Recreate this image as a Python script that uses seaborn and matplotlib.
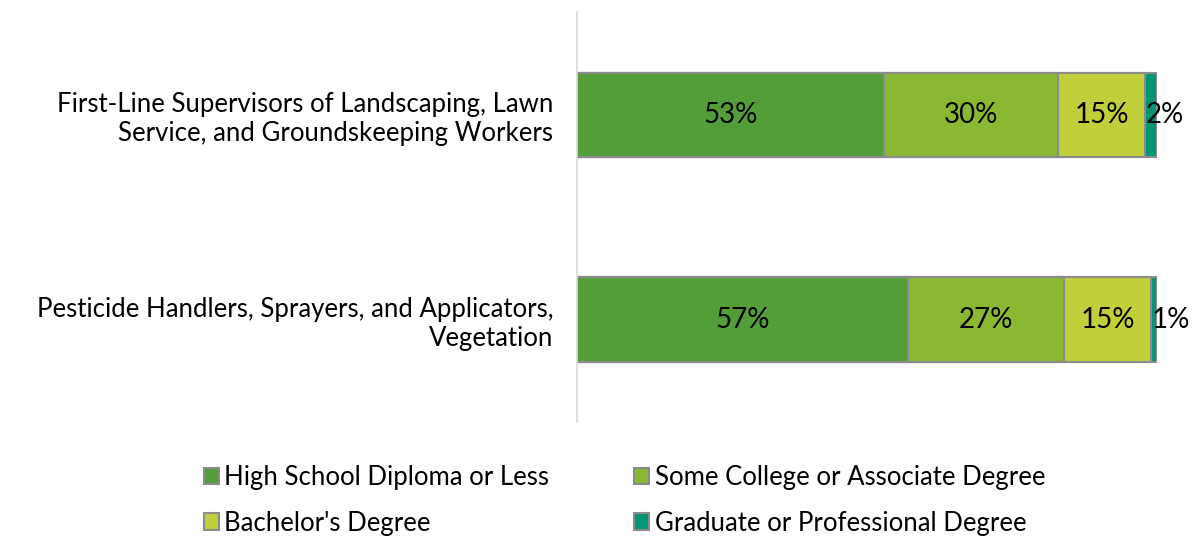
import seaborn as sns
import pandas as pd
import numpy as np
import matplotlib.pyplot as plt
from matplotlib.patches import Patch

occupations = [
    'First-Line Supervisors of Landscaping, Lawn\nService, and Groundskeeping Workers',
    'Pesticide Handlers, Sprayers, and Applicators,\nVegetation',
]
levels = ['High School Diploma or Less', 'Some College or Associate Degree',
          "Bachelor's Degree", 'Graduate or Professional Degree']
high_school = [0.53, 0.57]
some_college = [0.30, 0.27]
bachelors = [0.15, 0.15]
graduate = [0.02, 0.01]
colors = ['#549E39', '#8AB833', '#C0CF3A', '#029676']

sns.set_theme(style='white')
plt.rcParams['font.family'] = ['Lato', 'DejaVu Sans']
plt.rcParams['text.color'] = 'black'

df = pd.DataFrame({'occupation': occupations,
                   levels[0]: high_school, levels[1]: some_college,
                   levels[2]: bachelors, levels[3]: graduate})
cum = df[levels].cumsum(axis=1)

fig = plt.figure(figsize=(11.96, 5.38), dpi=100)
ax = fig.add_axes([0.4824, 0.2156, 0.485, 0.762])

# stacked bars: draw cumulative totals from the longest to the shortest
for lvl, col in reversed(list(zip(levels, colors))):
    sns.barplot(x=cum[lvl], y=df['occupation'], orient='h', color=col,
                saturation=1, width=0.41, edgecolor='#8C8C8C', linewidth=1.5, ax=ax)

for i in range(len(df)):
    for lvl in levels:
        val = df.loc[i, lvl]
        end = cum.loc[i, lvl]
        label = f'{val * 100:.0f}%'
        if val < 0.05:
            ax.text(end - val, i, label, ha='left', va='center', fontsize=20,
                    color='black', clip_on=False)
        else:
            ax.text(end - val / 2, i, label, ha='center', va='center', fontsize=20,
                    color='black')

ax.set_xlim(0, 1)
ax.set_ylim(1.5, -0.5)
ax.set_xlabel('')
ax.set_ylabel('')
ax.set_xticks([])
ax.tick_params(axis='y', length=0, pad=17, labelsize=18.5, labelcolor='black')
for s in ['top', 'right', 'bottom']:
    ax.spines[s].set_visible(False)
ax.spines['left'].set_color('#D9D9D9')
ax.spines['left'].set_linewidth(1.2)

handles = [Patch(facecolor=c, edgecolor='#8C8C8C', linewidth=1.5, label=l)
           for l, c in zip(levels, colors)]
order = [0, 2, 1, 3]
fig.legend([handles[k] for k in order], [levels[k] for k in order],
           loc='center', bbox_to_anchor=(0.522, 0.07), ncol=2, frameon=False,
           fontsize=18.5, handlelength=0.6, handleheight=0.6, handletextpad=0.2,
           columnspacing=3.3, labelspacing=0.8)

fig.savefig('out.png', dpi=100)
